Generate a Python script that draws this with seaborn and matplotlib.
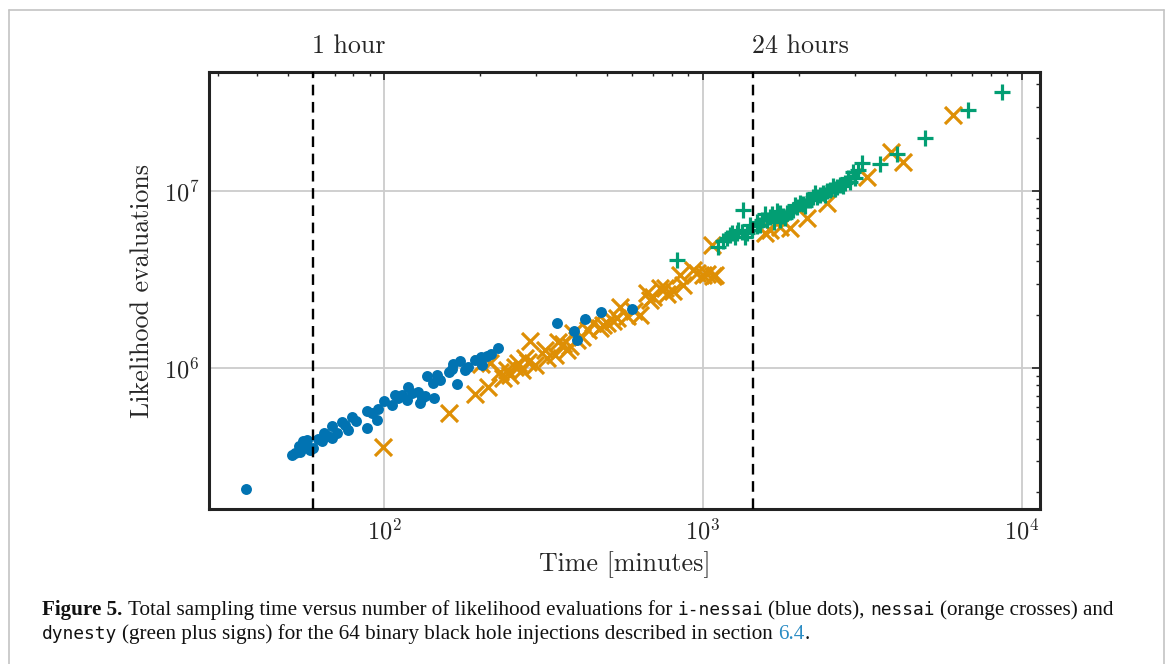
import matplotlib
matplotlib.use("Agg")
import numpy as np
import pandas as pd
import seaborn as sns
import matplotlib.pyplot as plt
from matplotlib.lines import Line2D
from matplotlib.ticker import LogLocator, NullFormatter

# ---------------- data (minutes, likelihood evaluations) ----------------
inessai_time = [36.9, 52.5, 54.1, 55.7, 57.3, 58.6, 56.9, 63.9, 64.8, 68.7,
                68.7, 71.2, 73.8, 77.1, 79.3, 81.7, 88.4, 88.4, 95.1, 95.8,
                100.0, 105.9, 108.3, 110.6, 119.0, 118.1, 127.9, 129.7, 131.6, 136.5,
                143.5, 142.5, 146.6, 164.7, 173.2, 163.5, 169.5, 179.6, 183.5, 201.7,
                203.1, 216.8, 228.1, 349.3, 395.0, 403.6, 427.6, 480.0, 600.7, 54.5,
                59.9, 51.4, 55.7, 66.7, 75.4, 91.7, 113.9, 122.4, 134.5, 149.9,
                160.0, 193.1, 210.6, 62.0]
inessai_evals = [2.07e5, 3.31e5, 3.62e5, 3.53e5, 3.92e5, 3.44e5, 3.72e5, 3.87e5, 4.29e5, 4.70e5,
                 4.02e5, 4.29e5, 4.95e5, 4.46e5, 5.29e5, 5.02e5, 5.72e5, 4.58e5, 5.08e5, 5.86e5,
                 6.51e5, 6.18e5, 7.04e5, 6.77e5, 7.81e5, 6.59e5, 7.32e5, 6.34e5, 6.77e5, 9.01e5,
                 6.77e5, 8.20e5, 9.13e5, 1.053e6, 1.095e6, 9.87e5, 8.12e5, 9.74e5, 1.013e6, 1.154e6,
                 1.04e6, 1.20e6, 1.297e6, 1.796e6, 1.618e6, 1.44e6, 1.892e6, 2.072e6, 2.154e6, 3.35e5,
                 3.53e5, 3.23e5, 3.87e5, 4.13e5, 4.76e5, 5.57e5, 7.04e5, 7.22e5, 6.94e5, 8.55e5,
                 9.49e5, 1.11e6, 1.169e6, 4.0e5]

nessai_time = [99.3, 160.0, 193.1, 212.1, 201.7, 215.2, 231.3, 236.4, 243.3, 257.8,
               263.4, 271.2, 283.2, 287.3, 297.9, 325.0, 344.4, 351.9, 364.8, 375.5,
               392.1, 403.6, 418.4, 453.1, 476.5, 486.9, 501.2, 523.6, 550.8, 579.4,
               636.5, 669.4, 699.1, 735.5, 773.7, 808.0, 850.2, 868.8, 933.7, 960.9,
               1000, 1033, 1079, 1094, 1071, 1571, 1629, 1751, 1882, 2129,
               2460, 3285, 3905, 4261, 6116, 248.6, 277.1, 320.3, 383.7, 437.0,
               539.0, 609.5, 684.1, 762.6]
nessai_evals = [3.58e5, 5.57e5, 7.13e5, 7.81e5, 1.053e6, 1.067e6, 9.49e5, 8.78e5, 9.74e5, 1.013e6,
                1.067e6, 9.74e5, 1.081e6, 1.42e6, 1.04e6, 1.139e6, 1.184e6, 1.403e6, 1.366e6, 1.264e6,
                1.577e6, 1.44e6, 1.497e6, 1.796e6, 1.683e6, 1.749e6, 1.796e6, 1.843e6, 2.211e6, 1.967e6,
                1.993e6, 2.653e6, 2.518e6, 2.831e6, 2.619e6, 2.723e6, 3.354e6, 2.944e6, 3.579e6, 3.441e6,
                3.354e6, 3.397e6, 3.311e6, 3.354e6, 4.954e6, 5.789e6, 6.021e6, 6.26e6, 6.18e6, 7.04e6,
                8.56e6, 1.20e7, 1.661e7, 1.458e7, 2.688e7, 9.13e5, 1.139e6, 1.264e6, 1.331e6, 1.639e6,
                1.917e6, 2.099e6, 2.422e6, 2.831e6]

dynesty_time = [831.8, 1119, 1160, 1194, 1220, 1238, 1283, 1293, 1340, 1360,
                1379, 1430, 1483, 1483, 1537, 1594, 1629, 1677, 1714, 1751,
                1789, 1842, 1882, 1924, 1980, 2024, 2068, 2129, 2176, 2224,
                2289, 2339, 2390, 2460, 2514, 2569, 2644, 2703, 2802, 2906,
                2969, 3013, 3169, 3609, 4081, 4997, 6817, 8716, 1265, 1330,
                1410, 1515, 1571, 1653, 1751, 1816, 1952, 2098, 2256, 2425,
                2606, 2762, 2864, 3079]
dynesty_evals = [4.076e6, 4.826e6, 5.218e6, 5.425e6, 5.641e6, 5.789e6, 5.789e6, 6.021e6, 7.81e6, 5.496e6,
                 5.789e6, 6.021e6, 6.343e6, 6.682e6, 6.858e6, 6.858e6, 7.131e6, 6.682e6, 7.709e6, 6.858e6,
                 7.225e6, 7.511e6, 7.61e6, 7.81e6, 8.122e6, 8.556e6, 8.445e6, 8.897e6, 8.897e6, 9.25e6,
                 9.25e6, 9.494e6, 9.743e6, 1.0e7, 1.013e7, 1.067e7, 1.053e7, 1.081e7, 1.11e7, 1.124e7,
                 1.281e7, 1.184e7, 1.44e7, 1.421e7, 1.618e7, 1.993e7, 2.868e7, 3.625e7, 5.496e6, 5.866e6,
                 6.427e6, 6.427e6, 7.416e6, 7.416e6, 7.511e6, 7.04e6, 8.336e6, 8.229e6, 9.743e6, 9.494e6,
                 1.026e7, 1.067e7, 1.184e7, 1.315e7]

reference_times = [60, 1440]
reference_labels = ["1 hour", "24 hours"]

x_label = "Time [minutes]"
y_label = "Likelihood evaluations"

# ---------------- style ----------------
sns.set_style("white")
plt.rcParams["font.family"] = ["cmr10", "DejaVu Serif"]
plt.rcParams["mathtext.fontset"] = "cm"
plt.rcParams["axes.formatter.use_mathtext"] = True
plt.rcParams["axes.unicode_minus"] = False

pal = sns.color_palette("colorblind")
c_blue, c_orange, c_green = pal[0], pal[1], pal[2]

W, H = 1170, 664
fig = plt.figure(figsize=(W / 100, H / 100), dpi=100)
fig.patch.set_facecolor("white")

ax = fig.add_axes([209 / W, 1 - 509 / H, (1040 - 209) / W, (509 - 72) / H])
ax.set_xscale("log")
ax.set_yscale("log")

sns.scatterplot(x=nessai_time, y=nessai_evals, marker="x", s=150, color=c_orange,
                linewidth=2.3, ax=ax, zorder=2)
sns.scatterplot(x=dynesty_time, y=dynesty_evals, marker="+", s=120, color=c_green,
                linewidth=2.3, ax=ax, zorder=2.1)
sns.scatterplot(x=inessai_time, y=inessai_evals, marker="o", s=62, color=c_blue,
                linewidth=0, ax=ax, zorder=2.2)

for t, lab in zip(reference_times, reference_labels):
    ax.axvline(t, color="black", lw=1.7, ls=(0, (4.5, 2.8)), zorder=3)
    ax.annotate(lab, xy=(t, 1.0), xycoords=("data", "axes fraction"),
                xytext=(-1, 10), textcoords="offset points",
                ha="left", va="bottom", fontsize=18.7)

ax.set_xlim(28.2, 11430)
ax.set_ylim(1.6e5, 4.7e7)

ax.grid(True, which="major", color="#cccccc", lw=1.3)
ax.set_axisbelow(True)

for sp in ax.spines.values():
    sp.set_linewidth(2.2)
    sp.set_color("#222222")

ax.xaxis.set_major_locator(LogLocator(base=10))
ax.yaxis.set_major_locator(LogLocator(base=10))
ax.xaxis.set_minor_locator(LogLocator(base=10, subs=np.arange(2, 10)))
ax.yaxis.set_minor_locator(LogLocator(base=10, subs=np.arange(2, 10)))
ax.xaxis.set_minor_formatter(NullFormatter())
ax.yaxis.set_minor_formatter(NullFormatter())
ax.tick_params(which="both", direction="in", top=True, right=True, color="#222222")
ax.tick_params(which="major", length=6, width=1.2, labelsize=17.5, pad=7)
ax.tick_params(which="minor", length=3, width=1.0)

ax.set_xlabel(x_label, fontsize=18.7, labelpad=5)
ax.set_ylabel(y_label, fontsize=18.7, labelpad=7)

# ---------------- page frame ----------------
frame_c = "#c4c4c4"
fig.add_artist(Line2D([8.5 / W, 8.5 / W], [0, 1 - 10 / H], transform=fig.transFigure, color=frame_c, lw=1.2))
fig.add_artist(Line2D([8.5 / W, 1163.5 / W], [1 - 10 / H, 1 - 10 / H], transform=fig.transFigure, color=frame_c, lw=1.2))
fig.add_artist(Line2D([1163.5 / W, 1163.5 / W], [0, 1 - 10 / H], transform=fig.transFigure, color=frame_c, lw=1.2))

# ---------------- caption ----------------
serif = ["Liberation Serif", "DejaVu Serif"]
mono = ["DejaVu Sans Mono"]
line1 = [("Figure 5.", serif, "bold", "#111111"),
         (" Total sampling time versus number of likelihood evaluations for ", serif, "normal", "#111111"),
         ("i-nessai", mono, "normal", "#111111"),
         (" (blue dots), ", serif, "normal", "#111111"),
         ("nessai", mono, "normal", "#111111"),
         (" (orange crosses) and", serif, "normal", "#111111")]
line2 = [("dynesty", mono, "normal", "#111111"),
         (" (green plus signs) for the 64 binary black hole injections described in section ", serif, "normal", "#111111"),
         ("6.4", serif, "normal", "#2b8cc4"),
         (".", serif, "normal", "#111111")]

fig.canvas.draw()
renderer = fig.canvas.get_renderer()

SERIF_SIZE = 15.2
MONO_SIZE = 12.9


def place_line(parts, x0_px, base_px):
    sp = fig.text(0, 0, "a a", fontsize=SERIF_SIZE, family=serif)
    sp2 = fig.text(0, 0, "aa", fontsize=SERIF_SIZE, family=serif)
    space_w = sp.get_window_extent(renderer).width - sp2.get_window_extent(renderer).width
    sp.remove()
    sp2.remove()
    x = x0_px
    for txt, fam, wt, col in parts:
        lead = len(txt) - len(txt.lstrip(" "))
        trail = len(txt) - len(txt.rstrip(" "))
        core = txt.strip(" ")
        size = MONO_SIZE if fam is mono else SERIF_SIZE
        x += lead * space_w
        t = fig.text(x / W, 1 - base_px / H, core, fontsize=size, family=fam,
                     weight=wt, color=col, ha="left", va="baseline")
        x += t.get_window_extent(renderer).width
        x += trail * space_w
    return x


place_line(line1, 42, 615)
place_line(line2, 42, 639)

fig.savefig("out.png", dpi=100)
